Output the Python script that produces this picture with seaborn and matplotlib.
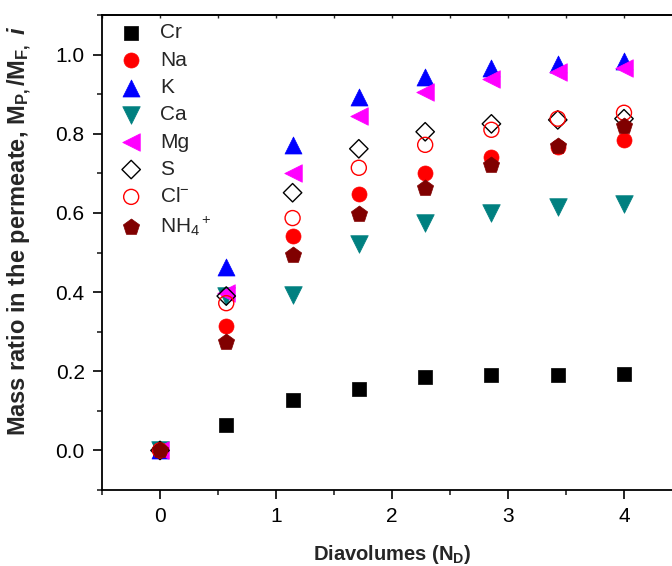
import matplotlib
matplotlib.use("Agg")
import matplotlib.pyplot as plt
from matplotlib.ticker import MultipleLocator, FormatStrFormatter
import seaborn as sns

# ── data ─────────────────────────────────────────────────────────────────────
diavolumes = [0, 0.571, 1.143, 1.714, 2.286, 2.857, 3.429, 4.0]

cr  = [0, 0.063, 0.127, 0.154, 0.185, 0.190, 0.191, 0.193]
na  = [0, 0.314, 0.542, 0.648, 0.701, 0.741, 0.766, 0.785]
k   = [0, 0.463, 0.772, 0.892, 0.944, 0.967, 0.975, 0.985]
ca  = [0, 0.390, 0.392, 0.522, 0.575, 0.600, 0.615, 0.623]
mg  = [0, 0.398, 0.701, 0.845, 0.906, 0.939, 0.957, 0.965]
s_  = [0, 0.390, 0.651, 0.762, 0.805, 0.825, 0.835, 0.838]
cl  = [0, 0.372, 0.587, 0.714, 0.772, 0.810, 0.838, 0.853]
nh4 = [0, 0.273, 0.494, 0.597, 0.663, 0.722, 0.770, 0.820]

labels = ['Cr', 'Na', 'K', 'Ca', 'Mg', 'S', 'Cl$^{-}$', 'NH$_4$$^+$']

# ── style ────────────────────────────────────────────────────────────────────
sns.set_style('ticks')
plt.rcParams['font.family'] = ['Liberation Sans', 'DejaVu Sans']
plt.rcParams['mathtext.fontset'] = 'custom'
plt.rcParams['mathtext.rm'] = 'Liberation Sans'
plt.rcParams['mathtext.bf'] = 'Liberation Sans:bold'
plt.rcParams['mathtext.it'] = 'Liberation Sans:bold:italic'

fig = plt.figure(figsize=(6.72, 5.66), dpi=100)
ax = fig.add_axes([102 / 672, 76 / 566, 580 / 672, 475 / 566])

series = [
    (cr,  dict(marker='s', s=88,  color='black', edgecolor='black', linewidth=0.5)),
    (na,  dict(marker='o', s=117, color='red', edgecolor='red', linewidth=0.5)),
    (k,   dict(marker='^', s=150, color='blue', edgecolor='blue', linewidth=0.5)),
    (ca,  dict(marker='v', s=160, color='#008080', edgecolor='#008080', linewidth=0.5)),
    (mg,  dict(marker='<', s=160, color='magenta', edgecolor='magenta', linewidth=0.5)),
    (s_,  dict(marker='D', s=88,  facecolor='none', edgecolor='black', linewidth=1.0)),
    (cl,  dict(marker='o', s=117, facecolor='none', edgecolor='red', linewidth=1.0)),
    (nh4, dict(marker='p', s=150, color='#800000', edgecolor='#800000', linewidth=0.5)),
]

for (vals, kw), lab in zip(series, labels):
    sns.scatterplot(x=diavolumes, y=vals, ax=ax, label=lab, zorder=3, **kw)

ax.set_xlim(-0.5, 4.5)
ax.set_ylim(-0.1, 1.1)
ax.xaxis.set_major_locator(MultipleLocator(1))
ax.xaxis.set_minor_locator(MultipleLocator(0.5))
ax.yaxis.set_major_locator(MultipleLocator(0.2))
ax.yaxis.set_minor_locator(MultipleLocator(0.1))
ax.yaxis.set_major_formatter(FormatStrFormatter('%.1f'))

for sp in ax.spines.values():
    sp.set_linewidth(1.3)
    sp.set_color('black')
ax.tick_params(which='major', direction='out', length=6.5, width=1.2,
               labelsize=15, colors='black', pad=6)
ax.tick_params(which='minor', direction='out', length=3.6, width=1.2)

top = ax.secondary_xaxis('top')
top.xaxis.set_major_locator(MultipleLocator(1))
top.xaxis.set_minor_locator(MultipleLocator(0.5))
top.tick_params(which='both', direction='in', length=2, width=1, labeltop=False)
top.spines['top'].set_linewidth(1.3)

ax.set_xlabel(r'Diavolumes (N$_\mathbf{D}$)', fontsize=14.5, fontweight='bold', labelpad=12)
ax.set_ylabel(r'Mass ratio in the permeate, M$_\mathbf{P,}$/M$_\mathbf{F,}$ $\mathit{i}$',
              fontsize=17, fontweight='bold')
ax.yaxis.set_label_coords(-0.118, 0.545)

ax.legend(loc='upper left', frameon=False, fontsize=15, labelspacing=0.4,
          handletextpad=0.4, borderaxespad=0.0)

fig.savefig('out.png', dpi=100)
